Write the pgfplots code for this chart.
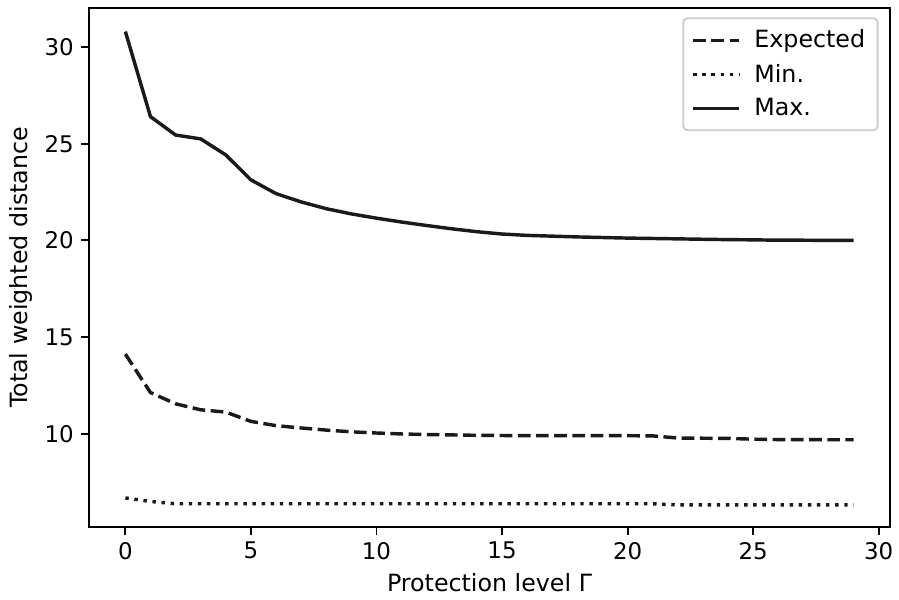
\documentclass[border=0pt]{standalone}
\usepackage{fontspec}
\setmainfont{DejaVu Sans}
\usepackage{pgfplots}
\pgfplotsset{compat=1.18}
\pgfplotstableread{
g expected min max
0 14.12 6.68 30.80
1 12.13 6.50 26.40
2 11.55 6.38 25.45
3 11.24 6.38 25.25
4 11.12 6.38 24.42
5 10.64 6.38 23.13
6 10.42 6.38 22.42
7 10.30 6.38 21.99
8 10.19 6.38 21.64
9 10.10 6.38 21.37
10 10.04 6.38 21.15
11 9.99 6.38 20.95
12 9.96 6.38 20.77
13 9.94 6.38 20.60
14 9.92 6.38 20.45
15 9.91 6.38 20.33
16 9.90 6.38 20.26
17 9.90 6.38 20.22
18 9.90 6.38 20.18
19 9.90 6.38 20.15
20 9.90 6.38 20.12
21 9.89 6.38 20.10
22 9.78 6.32 20.08
23 9.77 6.32 20.06
24 9.76 6.32 20.04
25 9.72 6.32 20.03
26 9.70 6.32 20.01
27 9.70 6.32 20.01
28 9.69 6.32 20.00
29 9.69 6.32 20.00
}\results
\definecolor{linec}{RGB}{26,26,26}
\definecolor{legframe}{RGB}{204,204,204}
\begin{document}
\begin{tikzpicture}[x=1pt,y=1pt]
\begin{axis}[
  name=ax,
  scale only axis,
  width=384.5pt, height=249.1pt,
  xmin=-1.45, xmax=30.45,
  ymin=5.18, ymax=32.02,
  xtick={0,5,...,30},
  ytick={10,15,...,30},
  tick align=outside,
  tick pos=left,
  major tick length=3.8pt,
  every tick/.style={line width=0.88pt, black},
  axis line style={line width=0.88pt},
  /pgf/number format/assume math mode=true,
  ticklabel style={font=\fontsize{11}{13}\selectfont},
  label style={font=\fontsize{11.4}{13.5}\selectfont},
  xlabel={Protection level Γ},
  ylabel={Total weighted distance},
  ylabel style={yshift=-1pt},
  legend cell align=left,
  legend image code/.code={\draw[#1] (0pt,0pt) -- (22pt,0pt);},
  legend style={
    at={(rel axis cs:1,1)}, xshift=-5.5pt, yshift=-4.5pt, anchor=north east,
    draw=legframe, rounded corners=2pt, line width=0.88pt,
    font=\fontsize{11.4}{13.5}\selectfont,
    row sep=2.3pt, column sep=4.5pt, inner xsep=4pt, inner ysep=3.5pt,
  },
]
\addplot[linec, line width=1.65pt, dash pattern=on 6.1pt off 2.64pt] table[x=g, y=expected] {\results};
\addlegendentry{Expected}
\addplot[linec, line width=1.65pt, dash pattern=on 1.65pt off 2.72pt] table[x=g, y=min] {\results};
\addlegendentry{Min.}
\addplot[linec, line width=1.65pt] table[x=g, y=max] {\results};
\addlegendentry{Max.}
\end{axis}
\pgfresetboundingbox
\path ([xshift=-42.7pt, yshift=-35.0pt]ax.south west) rectangle ([xshift=4.3pt, yshift=3.84pt]ax.north east);
\end{tikzpicture}
\end{document}
